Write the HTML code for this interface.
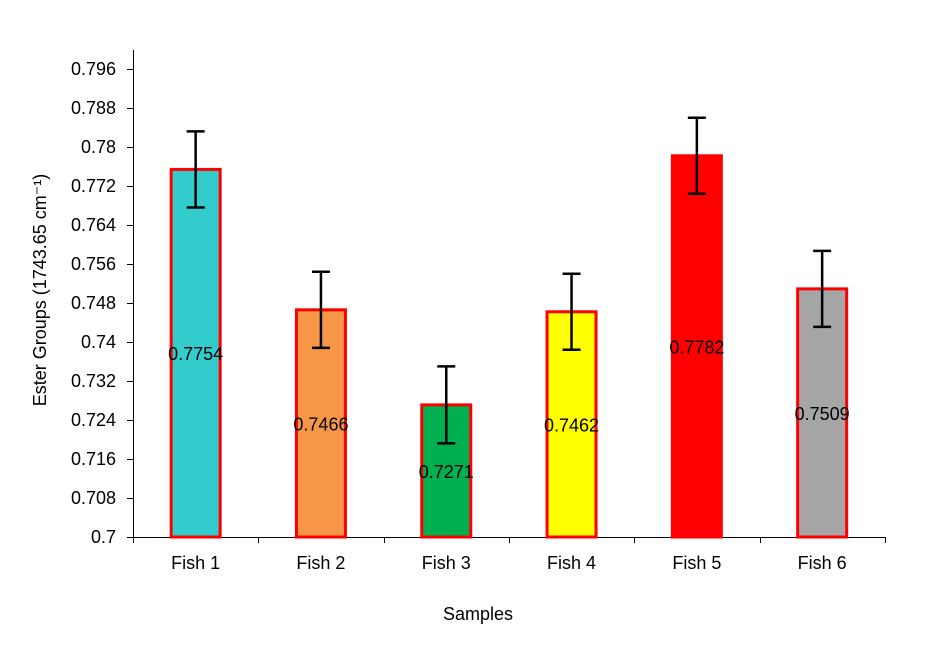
<!DOCTYPE html>
<html><head><meta charset="utf-8"><style>body{margin:0;background:#fff}svg{display:block}text{font-family:"Liberation Sans",Arial,sans-serif;fill:#000}</style></head>
<body>
<svg width="931" height="647" viewBox="0 0 931 647" xmlns="http://www.w3.org/2000/svg">
<g stroke="#000" stroke-width="1">
<line x1="133.5" y1="50" x2="133.5" y2="543"/>
<line x1="133" y1="537.5" x2="885" y2="537.5"/>
</g>
<g id="yt" font-size="18" text-anchor="end"></g>
<g id="bars"></g>
<text x="478" y="620" font-size="18" text-anchor="middle">Samples</text>
<text transform="translate(46,290) rotate(-90)" font-size="18" text-anchor="middle">Ester Groups (1743.65 cm⁻¹)</text>
<script>
var ns="http://www.w3.org/2000/svg",svg=document.querySelector('svg');
function el(t,a,p,tx){var e=document.createElementNS(ns,t);for(var k in a)e.setAttribute(k,a[k]);if(tx)e.textContent=tx;(p||svg).appendChild(e);return e;}
function Y(v){return 537-(v-0.7)/0.008*39;}
var yt=document.getElementById('yt');
for(var i=0;i<=12;i++){var v=0.7+i*0.008,y=Y(v);el('line',{x1:127,x2:133,y1:Math.round(y)+0.5,y2:Math.round(y)+0.5,stroke:'#000'});
var s=parseFloat(v.toFixed(3)).toString();el('text',{x:116,y:y+6},yt,s);}
for(var i=0;i<=6;i++){var x=Math.round(133+125.3*i)+0.5;el('line',{x1:x,x2:x,y1:537,y2:543,stroke:'#000'});}
var d=[[0.7754,'#33CCCC',0.0078],[0.7466,'#F79646',0.0078],[0.7271,'#00B050',0.0079],[0.7462,'#FFFF00',0.0078],[0.7782,'#FF0000',0.0078],[0.7509,'#A6A6A6',0.0078]];
var bg=document.getElementById('bars');
d.forEach(function(b,i){var c=133+125.3*(i+0.5),t=Y(b[0]);
el('rect',{x:c-24.5,y:t,width:49,height:537-t,fill:b[1],stroke:'#FF0000','stroke-width':3},bg);
var y1=Y(b[0]+b[2]),y2=Y(b[0]-b[2]);
el('line',{x1:c,x2:c,y1:y1,y2:y2,stroke:'#000','stroke-width':2.5},bg);
el('line',{x1:c-9,x2:c+9,y1:y1,y2:y1,stroke:'#000','stroke-width':2.5},bg);
el('line',{x1:c-9,x2:c+9,y1:y2,y2:y2,stroke:'#000','stroke-width':2.5},bg);
el('text',{x:c,y:(t+537)/2+7,'font-size':18,'text-anchor':'middle'},bg,b[0].toString());
el('text',{x:c,y:569,'font-size':18,'text-anchor':'middle'},bg,'Fish '+(i+1));
});
</script>
</svg>
</body></html>
